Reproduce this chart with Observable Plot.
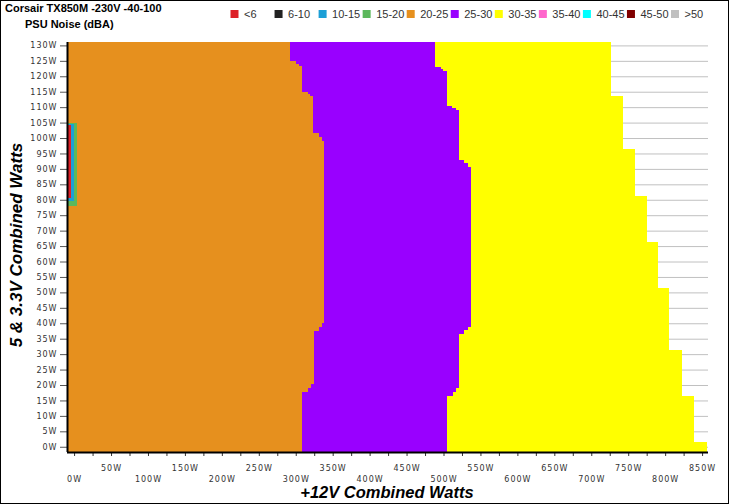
<!DOCTYPE html>
<html>
<head>
<meta charset="utf-8">
<script src="https://cdn.jsdelivr.net/npm/d3@7"></script>
<script src="https://cdn.jsdelivr.net/npm/@observablehq/plot@0.6"></script>
<style>
  html, body { margin: 0; padding: 0; background: #fff; }
  #wrap { position: relative; width: 729px; height: 504px; overflow: hidden; background: #fff; }
  #wrap > svg { position: absolute; left: 0; top: 0; }
  #border { position: absolute; left: 0; top: 0; width: 729px; height: 504px; box-sizing: border-box; border: 1px solid #000; pointer-events: none; }
</style>
</head>
<body>
<div id="wrap"></div>
<script>
// ---- categories (noise, dBA) ----
const noiseCategories = ["<6", "6-10", "10-15", "15-20", "20-25", "25-30", "30-35", "35-40", "40-45", "45-50", ">50"];
const categoryColors  = ["#dd2027", "#222222", "#1c9fd6", "#5cb85c", "#e6901e", "#9900ff", "#ffff00", "#ff66cc", "#00ffff", "#800000", "#c0c0c0"];

// ---- tick values (W) ----
const yTickValues = [0,5,10,15,20,25,30,35,40,45,50,55,60,65,70,75,80,85,90,95,100,105,110,115,120,125,130];
const xMinorTicks = [0,25,50,75,100,125,150,175,200,225,250,275,300,325,350,375,400,425,450,475,500,525,550,575,600,625,650,675,700,725,750,775,800,825,850];
const xLabelsLower = [0,100,200,300,400,500,600,700,800];
const xLabelsUpper = [50,150,250,350,450,550,650,750,850];

// ---- data: rows of [5&3.3V from (W), 5&3.3V to (W), +12V upper edge (W)] ----
// 20-25 dBA region (from 0W of +12V to the given edge)
const band20to25 = [
  [-1.7, 17.7, 308.5], [17.7, 19.0, 316.6], [19.0, 20.3, 320.3], [20.3, 37.5, 324.8],
  [37.5, 38.9, 331.5], [38.9, 40.2, 335.0], [40.2, 99.1, 338.7], [99.1, 100.4, 335.0],
  [100.4, 101.7, 331.5], [101.7, 113.6, 324.0], [113.6, 114.4, 319.0], [114.4, 115.0, 316.0],
  [115.0, 123.4, 308.0], [123.4, 124.0, 304.5], [124.0, 124.8, 300.0], [124.8, 131.1, 292.3]
];
// 25-30 dBA region (upper edge)
const band25to30 = [
  [-1.7, 16.4, 504.4], [16.4, 17.7, 512.5], [17.7, 19.0, 516.6], [19.0, 36.5, 521.0],
  [36.5, 37.8, 528.2], [37.8, 38.9, 532.8], [38.9, 90.7, 536.9], [90.7, 92.0, 532.8],
  [92.0, 92.9, 528.2], [92.9, 109.1, 521.0], [109.1, 109.7, 516.6], [109.7, 110.4, 512.0],
  [110.4, 121.6, 504.4], [121.6, 122.4, 499.8], [122.4, 123.1, 496.3], [123.1, 131.1, 488.6]
];
// 30-35 dBA region (upper edge = end of measured load range)
const band30to35 = [
  [-1.7, 1.6, 856.8], [1.6, 16.4, 839.2], [16.4, 31.3, 822.5], [31.3, 51.4, 805.7],
  [51.4, 66.3, 790.4], [66.3, 81.3, 775.1], [81.3, 96.4, 759.3], [96.4, 113.6, 742.7],
  [113.6, 131.1, 726.4]
];
// small low-noise patch near 0W of +12V: [x from, x to, y from, y to, category]
const lowNoiseCells = [
  [-9.6, 4.3, 78.0, 105.0, "15-20"],
  [-9.6, 0.0, 79.6, 104.5, "10-15"],
  [-9.6, -4.6, 80.6, 104.1, "<6"]
];

const xDomain = [-9.6, 858];
const yDomain = [-1.7, 131.1];

function bandRects(rows, cat) {
  return rows.map(([y1, y2, xEnd]) => ({x1: xDomain[0], x2: xEnd, y1, y2, cat}));
}
const cells = [
  ...bandRects(band30to35, "30-35"),
  ...bandRects(band25to30, "25-30"),
  ...bandRects(band20to25, "20-25"),
  ...lowNoiseCells.map(([x1, x2, y1, y2, cat]) => ({x1, x2, y1, y2, cat}))
];

const fmtW = d => d + "W";

const chart = Plot.plot({
  width: 729,
  height: 504,
  marginLeft: 67,
  marginRight: 21,
  marginTop: 42,
  marginBottom: 52,
  x: {domain: xDomain},
  y: {domain: yDomain},
  color: {domain: noiseCategories, range: categoryColors},
  style: {background: "transparent", fontFamily: "'DejaVu Sans', Verdana, sans-serif", fontSize: "8px", color: "#333", letterSpacing: "1px", overflow: "visible"},
  marks: [
    Plot.gridY(yTickValues, {stroke: "#c0c0c0", strokeOpacity: 1, strokeWidth: 1}),
    Plot.rect(cells, {x1: "x1", x2: "x2", y1: "y1", y2: "y2", fill: "cat", inset: 0, shapeRendering: "crispEdges"}),
    Plot.axisY(yTickValues, {tickFormat: fmtW, tickSize: 7, tickPadding: 3, stroke: "#555", fill: "#333", label: null}),
    Plot.axisX(xMinorTicks, {tickFormat: () => "", tickSize: 4, stroke: "#333", label: null}),
    Plot.axisX(xLabelsUpper, {tickFormat: fmtW, tickSize: 0, tickPadding: 13, fill: "#333", label: null}),
    Plot.axisX(xLabelsLower, {tickFormat: fmtW, tickSize: 0, tickPadding: 24, fill: "#333", label: null}),
    Plot.ruleX([xDomain[0]], {stroke: "#000", strokeWidth: 2}),
    Plot.ruleY([yDomain[0]], {stroke: "#000", strokeWidth: 2})
  ]
});

const wrap = document.getElementById("wrap");
wrap.appendChild(chart);

// ---- overlay: titles, legend, axis titles ----
const overlay = d3.create("svg").attr("width", 729).attr("height", 504)
  .style("font-family", "'Liberation Sans', Arial, sans-serif");

overlay.append("text").attr("x", 5).attr("y", 11.7)
  .attr("font-size", 11).attr("font-weight", "bold").attr("fill", "#000")
  .text("Corsair TX850M -230V -40-100");
overlay.append("text").attr("x", 25).attr("y", 27.5)
  .attr("font-size", 11).attr("font-weight", "bold").attr("fill", "#000")
  .text("PSU Noise (dBA)");

const lg = overlay.append("g");
noiseCategories.forEach((c, i) => {
  const x = 230.5 + i * 44.05;
  lg.append("rect").attr("x", x).attr("y", 10).attr("width", 8).attr("height", 8)
    .attr("fill", categoryColors[i]);
  lg.append("text").attr("x", x + 13.5).attr("y", 18.3)
    .attr("font-size", 11).attr("fill", "#333").text(c);
});

overlay.append("text")
  .attr("transform", "translate(22,245) rotate(-90)")
  .attr("text-anchor", "middle")
  .attr("font-size", 17).attr("font-weight", "bold").attr("font-style", "italic").attr("fill", "#000")
  .text("5 & 3.3V Combined Watts");
overlay.append("text")
  .attr("x", 387).attr("y", 498)
  .attr("text-anchor", "middle")
  .attr("font-size", 16.5).attr("font-weight", "bold").attr("font-style", "italic").attr("fill", "#000")
  .text("+12V Combined Watts");

wrap.appendChild(overlay.node());

const border = document.createElement("div");
border.id = "border";
wrap.appendChild(border);
</script>
</body>
</html>
